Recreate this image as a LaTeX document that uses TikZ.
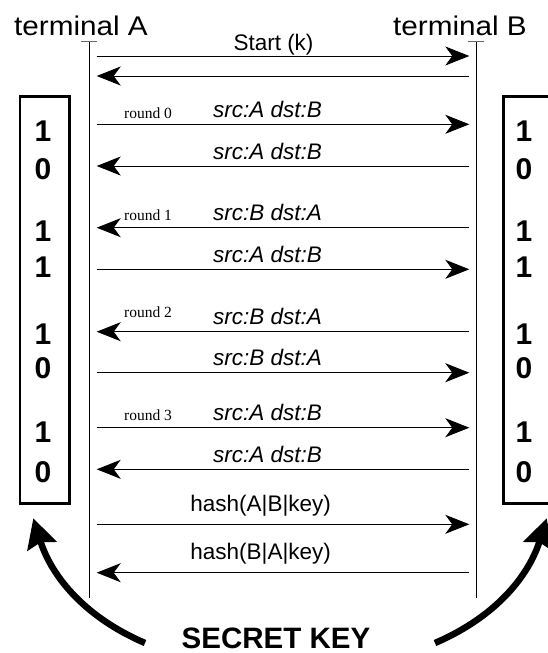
\documentclass[tikz,border=0pt]{standalone}
\usepackage{graphicx}
\usepackage{fontspec}
\setmainfont{Liberation Sans}
\newfontfamily\serifround{Liberation Serif}
\usetikzlibrary{arrows.meta}
\begin{document}
\begin{tikzpicture}[x=1pt,y=-1pt,
  msg/.style={line width=1pt, -{Stealth[length=24pt,width=19pt,inset=7pt]}},
  life/.style={line width=1pt},
  tick/.style={line width=1pt, draw=black!60},
  term/.style={font=\fontsize{27}{30}\selectfont, anchor=base, inner sep=0},
  lbl/.style={font=\fontsize{22.5}{24}\selectfont, anchor=base, inner sep=0},
  src/.style={font=\fontsize{22.5}{24}\selectfont\itshape, anchor=base, inner sep=0},
  rnd/.style={font=\serifround\fontsize{15.5}{17}\selectfont, anchor=base west, inner sep=0},
  digit/.style={font=\fontsize{30}{32}\selectfont\bfseries, inner sep=0},
  keybox/.style={draw, line width=2.5pt, minimum width=49.3pt, minimum height=406.6pt, inner sep=0},
  keylbl/.style={font=\fontsize{29.5}{32}\selectfont\bfseries, anchor=base, inner sep=0},
  bigarrow/.style={line width=6.5pt, -{Stealth[length=29pt,width=30pt,inset=4pt]}},
]
\useasboundingbox (0,0) rectangle (548,653);

% terminals
\node[term] (termA) at (81,35) {\scalebox{1.1}[1]{terminal A}};
\node[term] (termB) at (460,35) {\scalebox{1.1}[1]{terminal B}};

% lifelines
\coordinate (Atop) at (89.3,41.7);
\coordinate (Abot) at (89.3,598.3);
\coordinate (Btop) at (476,41.7);
\coordinate (Bbot) at (476,598.3);
\draw[life] (Atop) -- (Abot);
\draw[life] (Btop) -- (Bbot);
\draw[tick] ([xshift=-8pt]Atop) -- ([xshift=8pt]Atop);
\draw[tick] ([xshift=-8pt]Btop) -- ([xshift=8pt]Btop);

% message end points
\foreach \i/\y in {0/56,1/76,2/124.3,3/166,4/227.7,5/269.3,6/331.7,7/372.7,8/427.7,9/469.3,10/524.3,11/572.7}{
  \coordinate (L\i) at (96.7,\y);
  \coordinate (R\i) at (469.3,\y);
}

% messages
\draw[msg] (L0) -- (R0);
\draw[msg] (R1) -- (L1);
\draw[msg] (L2) -- (R2);
\draw[msg] (R3) -- (L3);
\draw[msg] (R4) -- (L4);
\draw[msg] (L5) -- (R5);
\draw[msg] (R6) -- (L6);
\draw[msg] (L7) -- (R7);
\draw[msg] (L8) -- (R8);
\draw[msg] (R9) -- (L9);
\draw[msg] (L10) -- (R10);
\draw[msg] (R11) -- (L11);

% labels
\node[lbl] (lStart) at (273.5,50) {Start (k)};
\node[src] (s2) at (267.5,117.3) {src:A dst:B};
\node[src] (s3) at (267.5,159) {src:A dst:B};
\node[src] (s4) at (267.5,220.7) {src:B dst:A};
\node[src] (s5) at (267.5,262.3) {src:A dst:B};
\node[src] (s6) at (267.5,324.7) {src:B dst:A};
\node[src] (s7) at (267.5,365.7) {src:B dst:A};
\node[src] (s8) at (267.5,420.7) {src:A dst:B};
\node[src] (s9) at (267.5,462.3) {src:A dst:B};
\node[rnd] (r0) at (124,118.3) {round 0};
\node[rnd] (r1) at (124,220.7) {round 1};
\node[rnd] (r2) at (124,317.5) {round 2};
\node[rnd] (r3) at (124,420.7) {round 3};
\node[lbl] (h1) at (260.7,511.5) {hash(A|B|key)};
\node[lbl] (h2) at (260.7,559.5) {hash(B|A|key)};

% key boxes
\node[keybox] (boxA) at (44.65,300) {};
\node[keybox] (boxB) at (528,300) {};
\foreach \y/\d in {131/1,169.5/0,231/1,267/1,334/1,368/0,432/1,472/0}{
  \node[digit] at (43,\y) {\d};
  \node[digit] at (524,\y) {\d};
}

% secret key
\node[keylbl] (secret) at (276,648) {SECRET KEY};
\coordinate (kA) at (145,643);
\coordinate (tipA) at (33.3,518.3);
\coordinate (kB) at (435,643);
\coordinate (tipB) at (546.7,518.3);
\draw[bigarrow] (kA) .. controls (80,615) and (50,572) .. (tipA);
\draw[bigarrow] (kB) .. controls (500,615) and (530,572) .. (tipB);
\end{tikzpicture}
\end{document}
